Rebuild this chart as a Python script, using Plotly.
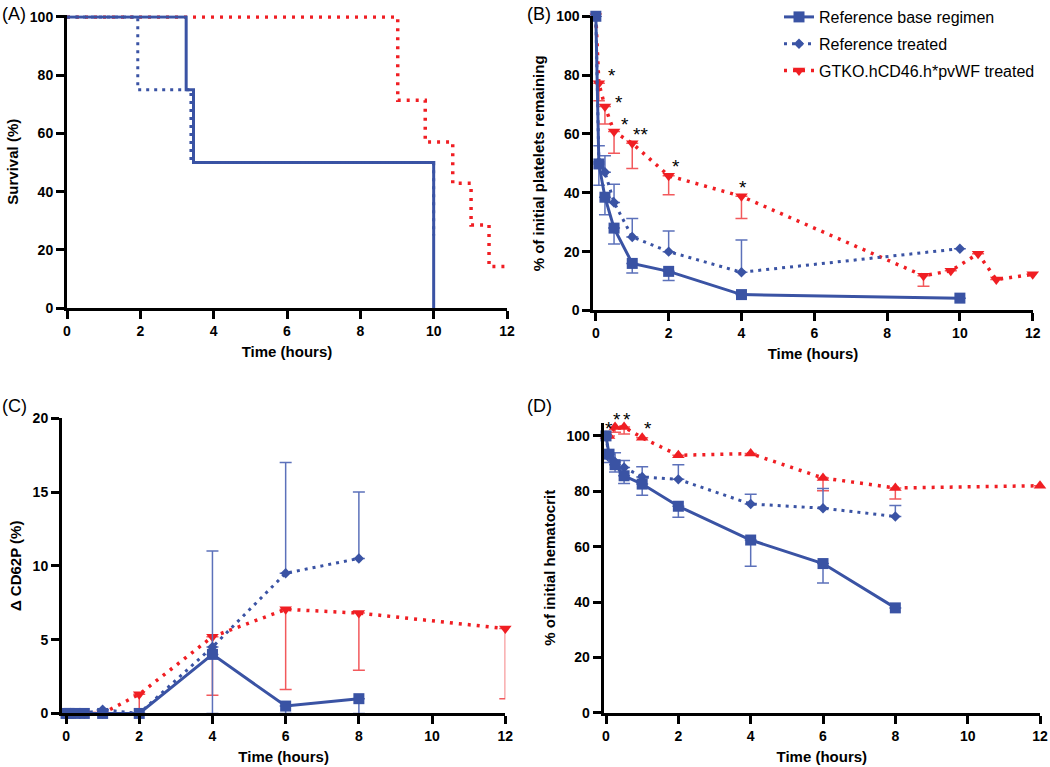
import plotly.graph_objects as go

# Panel A - survival (step curves)
surv_base_t = [0, 3.25, 3.45, 10]
surv_base = [100, 75, 50, 0]
surv_trt_t = [0, 1.93, 3.38, 10]
surv_trt = [100, 75, 50, 25]
surv_gtko_t = [0, 9.02, 9.77, 10.52, 11.02, 11.51, 12]
surv_gtko = [100, 71.4, 57.1, 42.9, 28.6, 14.3, 14.3]

# Panel B - % of initial platelets remaining
plt_t = [0, 0.083, 0.25, 0.5, 1, 2, 4, 10]
plt_base = [100, 49.8, 38.5, 28, 16, 13.3, 5.4, 4.2]
plt_base_err = [0, 7.2, 6, 5.4, 3.3, 3.1, 0, 0]
plt_trt = [100, 50.5, 47, 36.7, 25, 20, 13, 21]
plt_trt_err = [0, 5.5, 5.6, 6.2, 6.3, 7, 11, 0]
plt_gtko_t = [0, 0.083, 0.25, 0.5, 1, 2, 4, 9, 9.75, 10.5, 11, 12]
plt_gtko = [100, 77.2, 69.3, 60.8, 56.8, 45.8, 38.8, 11.8, 13.5, 19.3, 10.5, 12.3]
plt_gtko_err = [0, 5.9, 5.9, 7.4, 8.5, 6.5, 7.5, 3.6, 0, 0, 0, 0]

# Panel C - delta CD62P (%)
cd_t = [0, 0.083, 0.25, 0.5, 1, 2, 4, 6, 8]
cd_base = [0, 0, 0, 0, 0, 0, 4, 0.5, 1]
cd_base_err = [0, 0, 0, 0, 0, 0, 4, 0.5, 1]
cd_trt = [0, 0, 0, 0, 0.25, 0, 4.5, 9.5, 10.5]
cd_trt_err = [0, 0, 0, 0, 0, 0, 6.5, 7.5, 4.5]
cd_gtko_t = [0, 0.083, 0.25, 0.5, 1, 2, 4, 6, 8, 12]
cd_gtko = [0, 0, 0, 0, 0, 1.3, 5.2, 7.05, 6.8, 5.75]
cd_gtko_err = [0, 0, 0, 0, 0, 1.3, 3.96, 5.43, 3.87, 4.75]

# Panel D - % of initial hematocrit
hct_t = [0, 0.083, 0.25, 0.5, 1, 2, 4, 6, 8]
hct_base = [100, 93.4, 89.6, 85.6, 82.6, 74.6, 62.4, 53.9, 37.9]
hct_base_err = [0, 3, 2.6, 2.8, 4, 4, 9.5, 7, 0]
hct_trt = [100, 92.2, 90.6, 88.6, 85.2, 84.3, 75.4, 73.9, 70.9]
hct_trt_err = [0, 1.7, 3.3, 2.5, 3.7, 5.3, 3.5, 7.1, 4]
hct_gtko_t = [0, 0.083, 0.25, 0.5, 1, 2, 4, 6, 8, 12]
hct_gtko = [100, 100, 103.2, 103.2, 99.3, 93, 93.6, 84.8, 81.2, 82]
hct_gtko_err = [0, 0, 1.9, 2.5, 0, 0, 0.6, 4.6, 4, 0]

# Significance stars (x, y, text)
stars_b = [(0.44, 81.4, '*'), (0.64, 72.4, '*'), (0.80, 65, '*'), (1.24, 61.4, '**'),
           (2.2, 50.6, '*'), (4.04, 43.6, '*')]
stars_d = [(0.08, 104.4, '*'), (0.31, 107.6, '*'), (0.57, 107.6, '*'), (1.15, 104.4, '*')]

# Tick values
time_ticks = [0, 2, 4, 6, 8, 10, 12]
pct_ticks = [0, 20, 40, 60, 80, 100]
cd_ticks = [0, 5, 10, 15, 20]

BLUE = '#3A53A4'
BLUE_ERR = '#5C71BA'
RED = '#F01E23'
RED_ERR = '#F2595C'
FONT = 'Liberation Sans, Arial, sans-serif'
W, H = 1050, 767

names = ['Reference base regimen', 'Reference treated', 'GTKO.hCD46.h*pvWF treated']


def dom_x(a, b):
    return [a / W, b / W]


def dom_y(top, bottom):
    return [1 - bottom / H, 1 - top / H]


fig = go.Figure()


def add(x, y, err, minus, n, axis, symbol=None, size=10, legend=False):
    # style per series: 0 base (solid), 1 treated (blue dots), 2 gtko (red dots)
    color = [BLUE, BLUE, RED][n]
    ecolor = [BLUE_ERR, BLUE_ERR, RED_ERR][n]
    dash = ['solid', '3px,5px', '3px,6px'][n]
    width = [3, 3, 3.5][n]
    kw = {}
    if err is not None:
        zeros = [0] * len(err)
        kw['error_y'] = dict(type='data', symmetric=False,
                             array=zeros if minus else err,
                             arrayminus=err if minus else zeros,
                             color=ecolor, thickness=1.5, width=6)
    fig.add_trace(go.Scatter(
        x=x, y=y, name=names[n], mode='lines+markers' if symbol else 'lines',
        line=dict(color=color, width=width, dash=dash, shape='linear' if symbol else 'hv'),
        marker=dict(symbol=symbol or 'circle', size=size, color=color),
        xaxis='x' + axis, yaxis='y' + axis, cliponaxis=False,
        showlegend=legend, legendrank=n + 1, legendgroup=names[n], **kw))


# Panel A
add(surv_gtko_t, surv_gtko, None, False, 2, '')
add(surv_base_t, surv_base, None, False, 0, '')
add(surv_trt_t, surv_trt, None, False, 1, '')

# Panel B
add(plt_gtko_t, plt_gtko, plt_gtko_err, True, 2, '2', 'triangle-down', 11, True)
add(plt_t, plt_trt, plt_trt_err, False, 1, '2', 'diamond', 8, True)
add(plt_t, plt_base, plt_base_err, True, 0, '2', 'square', 11, True)

# Panel C
add(cd_gtko_t, cd_gtko, cd_gtko_err, True, 2, '3', 'triangle-down', 11)
add(cd_t, cd_trt, cd_trt_err, False, 1, '3', 'diamond', 8)
add(cd_t, cd_base, cd_base_err, True, 0, '3', 'square', 11)

# Panel D
add(hct_gtko_t, hct_gtko, hct_gtko_err, True, 2, '4', 'triangle-up', 11)
add(hct_t, hct_trt, hct_trt_err, False, 1, '4', 'diamond', 8)
add(hct_t, hct_base, hct_base_err, True, 0, '4', 'square', 11)

tickfont = dict(family=FONT, size=14, color='black')
titlefont = dict(family=FONT, size=15, color='black')


def axis(domain, rng, ticks, title, anchor, standoff):
    return dict(domain=domain, range=rng, tickmode='array', tickvals=ticks,
                ticktext=['<b>%s</b>' % t for t in ticks],
                showline=True, linewidth=3,
                linecolor='black', ticks='outside', ticklen=8, tickwidth=3, tickcolor='black',
                showgrid=False, zeroline=False, tickfont=tickfont, anchor=anchor,
                title=dict(text='<b>%s</b>' % title, font=titlefont, standoff=standoff),
                automargin=False)


xt = 'Time (hours)'
fig.update_layout(
    width=W, height=H, template='none',
    paper_bgcolor='white', plot_bgcolor='white',
    margin=dict(l=0, r=0, t=0, b=0),
    xaxis=axis(dom_x(67, 507), [0, 12], time_ticks, xt, 'y', 9),
    # a little headroom above 100 so the step lines at 100 are not clipped
    yaxis=axis(dom_y(13.25, 307), [0, 100.6], pct_ticks, 'Survival (%)', 'x', 8),
    xaxis2=axis(dom_x(593.3, 1032.7), [-0.07, 12], time_ticks, xt, 'y2', 9),
    yaxis2=axis(dom_y(14.3, 309.3), [0, 100], pct_ticks, '% of initial platelets remaining', 'x2', 8),
    xaxis3=axis(dom_x(62, 505.3), [-0.11, 12], time_ticks, xt, 'y3', 9),
    yaxis3=axis(dom_y(417.3, 713.3), [0, 20], cd_ticks, 'Δ CD62P (%)', 'x3', 8),
    xaxis4=axis(dom_x(603.7, 1040), [-0.064, 12], time_ticks, xt, 'y4', 9),
    yaxis4=axis(dom_y(421.7, 712.7), [0, 104.8], pct_ticks, '% of initial hematocrit', 'x4', 8),
    legend=dict(x=779 / W, y=1 + 2 / H, xanchor='left', yanchor='top',
                font=dict(family=FONT, size=16, color='black'),
                bgcolor='rgba(0,0,0,0)', itemwidth=30, tracegroupgap=3),
    showlegend=True,
)

ann = []
for lab, px, py in [('(A)', 0, 12), ('(B)', 525, 12), ('(C)', 0, 405), ('(D)', 525, 405)]:
    ann.append(dict(text=lab, x=px / W, y=1 - py / H, xref='paper', yref='paper',
                    xanchor='left', yanchor='middle', showarrow=False,
                    font=dict(family=FONT, size=18, color='black')))
for sx, sy, st in stars_b:
    ann.append(dict(text=st, x=sx, y=sy, xref='x2', yref='y2', showarrow=False,
                    yshift=-5, font=dict(family=FONT, size=19, color='black')))
# panel D stars sit above the axis range, so place them in paper y
for sx, sy, st in stars_d:
    py = 712.7 - sy * (712.7 - 421.7) / 104.8
    ann.append(dict(text=st, x=sx, y=1 - py / H, xref='x4', yref='paper', showarrow=False,
                    yshift=-5, font=dict(family=FONT, size=19, color='black')))
fig.update_layout(annotations=ann)

fig.write_html('out.html', config={'displayModeBar': False},
               post_script="document.body.style.margin='0';")
